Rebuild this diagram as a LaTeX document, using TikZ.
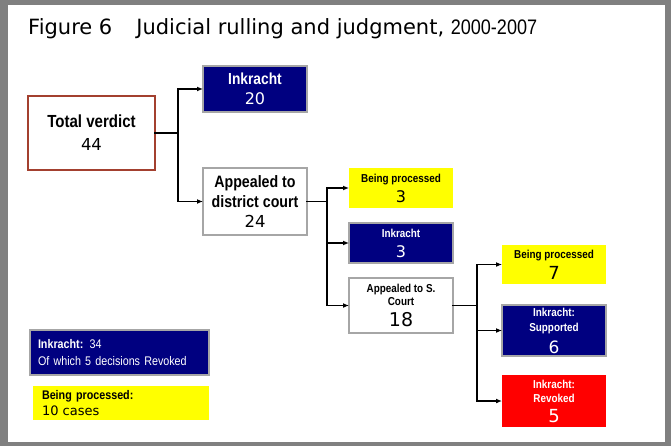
\documentclass[tikz,border=0pt]{standalone}
\usepackage{fontspec}
\setmainfont{DejaVu Sans}
\newfontfamily\narrowfont[FakeStretch=0.86]{Liberation Sans}
\usetikzlibrary{arrows.meta,positioning}
\definecolor{frame}{HTML}{808080}
\definecolor{edge}{HTML}{A6A6A6}
\definecolor{verdict}{HTML}{A3402F}
\definecolor{navy}{HTML}{000080}
\definecolor{sun}{HTML}{FFFF00}
\definecolor{alarm}{HTML}{FF0000}
\newcommand\hd[2]{\narrowfont\bfseries\fontsize{#1}{#2}\selectfont}
\newcommand\nm[1]{\normalfont\fontsize{#1}{#1}\selectfont}
\tikzset{
  box/.style={minimum width=104pt, inner sep=0pt, outer sep=0pt, align=center, line width=1.6pt},
  plain/.style={box, draw=edge, fill=white},
  dark/.style={box, draw=edge, fill=navy, text=white},
  pending/.style={box, fill=sun},
  revoked/.style={box, fill=alarm, text=white},
  link/.style={-{Latex[length=6pt,width=5pt]}, line width=1.6pt},
  wire/.style={line width=1.6pt, line cap=rect},
}

\begin{document}
\begin{tikzpicture}[x=1pt, y=-1pt]
  \fill[frame] (0,0) rectangle (671,446);
  \fill[white] (8,5) rectangle (665,442);
  \useasboundingbox (0,0) rectangle (671,446);

  \node[anchor=base west, inner sep=0pt, font=\fontsize{21}{24}\selectfont] (title) at (28,35) {Figure 6\hspace{24pt}Judicial rulling and judgment, {\narrowfont 2000-2007}};

  \node[plain, draw=verdict, minimum width=127pt, minimum height=74pt, font=\hd{17.5}{23}] (total) at (91.5,133) {Total verdict\\{\nm{16.5}44}};
  \node[dark, minimum height=46pt, font=\hd{16}{20}] (ink20) at (255,89) {Inkracht\\{\nm{16}20}};
  \node[plain, minimum height=67pt, font=\hd{16.5}{20}] (dist) at (255,201.5) {Appealed to\\district court\\{\nm{16.5}24}};
  \node[pending, minimum height=40pt, font=\hd{11.5}{20}] (proc3) at (401,188) {Being processed\\{\nm{16}3}};
  \node[dark, minimum height=40pt, font=\hd{11.5}{20}, below=15pt of proc3] (ink3) {Inkracht\\{\nm{16}3}};
  \node[plain, minimum height=55pt, font=\hd{11.5}{13.5}, below=15pt of ink3] (sct) {Appealed to S.\\Court\\[6pt]{\nm{19}18}};
  \node[pending, minimum height=39pt, font=\hd{11.5}{21}] (proc7) at (554,264.5) {Being processed\\{\nm{18}7}};
  \node[dark, minimum height=51pt, font=\hd{11.5}{15}, below=21pt of proc7] (sup6) {Inkracht:\\Supported\\[6pt]{\nm{17}6}};
  \node[revoked, minimum height=52pt, font=\hd{11.5}{14}, below=19pt of sup6] (rev5) {Inkracht:\\Revoked\\[6pt]{\nm{18}5}};

  \node[dark, minimum width=179pt, minimum height=45pt, text width=163pt, align=left, font=\narrowfont\fontsize{12.5}{17}\selectfont] (keyink) at (119.5,352.5) {\textbf{Inkracht:} 34\\Of which 5 decisions Revoked};
  \node[pending, minimum width=176pt, minimum height=34pt, text width=158pt, align=left, font=\narrowfont\fontsize{12.5}{16}\selectfont] (keyproc) at (121,403) {\textbf{Being processed:}\\{\nm{13}10 cases}};

  \draw[wire] (total.east) -- ++(23,0) coordinate (fork1);
  \draw[link] (fork1) |- (ink20.west);
  \draw[link] (fork1) |- (dist.west);
  \draw[wire] (dist.east) -- ++(20,0) coordinate (fork2);
  \draw[link] (fork2) |- (proc3.west);
  \draw[link] (fork2) |- (ink3.west);
  \draw[link] (fork2) |- (sct.west);
  \draw[wire] (sct.east) -- ++(24,0) coordinate (fork3);
  \draw[link] (fork3) |- (proc7.west);
  \draw[link] (fork3) |- (sup6.west);
  \draw[link] (fork3) |- (rev5.west);
\end{tikzpicture}
\end{document}
